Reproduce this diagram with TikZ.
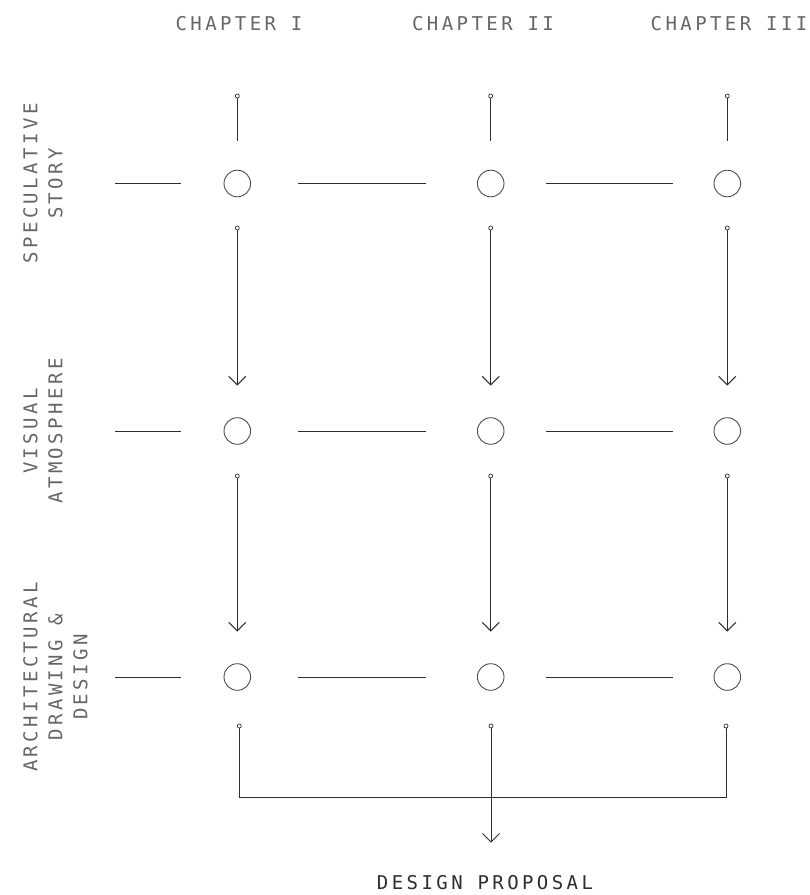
\documentclass[tikz,border=0pt]{standalone}
\usepackage{fontspec}
\newfontfamily\labelfont[LetterSpace=18]{DejaVu Sans Mono}
\usetikzlibrary{arrows.meta,calc}
\definecolor{ink}{HTML}{2E2E2E}
\definecolor{txt}{HTML}{666666}
\begin{document}
\begin{tikzpicture}[x=1pt,y=-1pt,
  ring/.style={circle,draw=ink!85,line width=0.9pt,minimum size=26.6pt,inner sep=0pt},
  pin/.style={circle,draw=ink,fill=white,line width=0.7pt,minimum size=4pt,inner sep=0pt},
  seg/.style={draw=ink,line width=1pt},
  arr/.style={seg,-{Straight Barb[length=8.5pt,width=17pt]}},
  chap/.style={font=\labelfont\fontsize{19}{25}\selectfont,text=txt,inner sep=0pt,anchor=base},
  side/.style={font=\labelfont\fontsize{19}{25}\selectfont,text=txt,inner sep=0pt,rotate=90,anchor=north,align=center}]
\path[fill=white] (0,0) rectangle (810,895);
\useasboundingbox (0,0) rectangle (810,895);

% column headings
\node[chap] (ch1) at (239,30.5) {CHAPTER I};
\node[chap] (ch2) at (483,30.5) {CHAPTER II};
\node[chap] (ch3) at (729,30.5) {CHAPTER III};

% row headings
\node[side] (l1) at (23,183.5) {SPECULATIVE\\STORY};
\node[side] (l2) at (23,431) {VISUAL\\ATMOSPHERE};
\node[side] (l3) at (23,677) {ARCHITECTURAL\\DRAWING \&\\DESIGN};

% grid of circles and horizontal segments
\foreach \r/\y in {1/183.5,2/431,3/677}{
  \foreach \c/\x in {1/237.3,2/490.7,3/727.3}{
    \node[ring] (c\r\c) at (\x,\y) {};
  }
  \draw[seg] (115,\y) -- (181,\y) (298,\y) -- (426,\y) (546,\y) -- (673,\y);
}

% top stubs and downward arrows
\foreach \c in {1,2,3}{
  \node[pin] (t\c) at ($(c1\c)+(0,-87.5)$) {};
  \draw[seg] (t\c) -- ($(c1\c)+(0,-43)$);
  \node[pin] (a1\c) at ($(c1\c)+(0,44.5)$) {};
  \draw[arr,shorten >=31.7pt] (a1\c) -- (c2\c);
  \node[pin] (a2\c) at ($(c2\c)+(0,45)$) {};
  \draw[arr,shorten >=31.7pt] (a2\c) -- (c3\c);
}

% bottom bracket
\node[pin] (b1) at (239.3,726) {};
\node[pin] (b2) at (491,726) {};
\node[pin] (b3) at (726,726) {};
\coordinate (k1) at (239.3,797);
\coordinate (k3) at (726,797);
\draw[seg] (b1) -- (k1) -- (k3) -- (b3);

\node[chap,text=ink] (dp) at (485,889) {DESIGN PROPOSAL};
\draw[arr,shorten >=32pt] (b2) -- (b2 |- dp.north);
\end{tikzpicture}
\end{document}
